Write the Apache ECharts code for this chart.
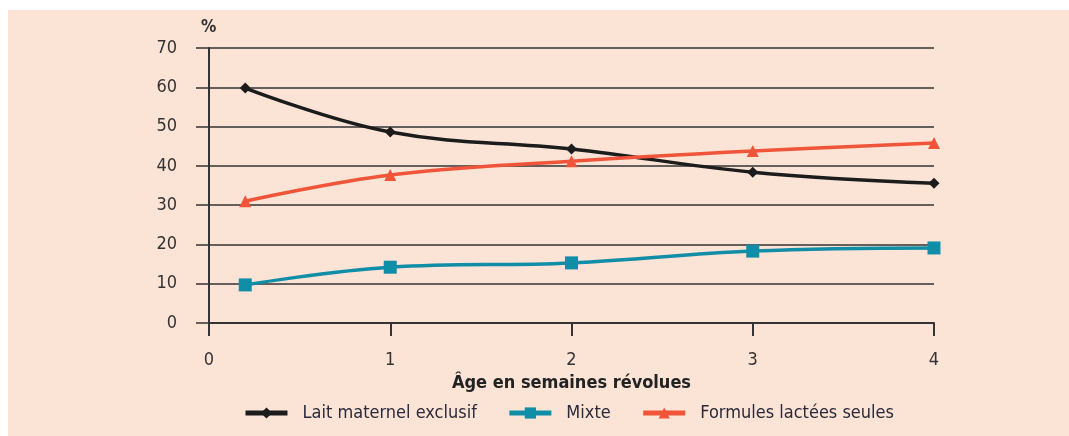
<!DOCTYPE html>
<html>
<head>
<meta charset="utf-8">
<script src="https://cdn.jsdelivr.net/npm/echarts@6/dist/echarts.min.js"></script>
<style>
html, body { margin: 0; padding: 0; background: #fff; }
#box { position: absolute; left: 8px; top: 10px; width: 1061px; height: 426px; background: #fbe3d6; }
#chart { position: absolute; left: 0; top: 0; width: 1069px; height: 436px; }
</style>
</head>
<body>
<div id="box"></div>
<div id="chart"></div>
<script>
// âge (semaines révolues)
const ages = [0.2, 1, 2, 3, 4];
const laitMaternel = [59.8, 48.6, 44.3, 38.4, 35.6];
const mixte = [9.7, 14.2, 15.3, 18.3, 19.1];
const formules = [31.0, 37.7, 41.2, 43.8, 45.8];

const font = '"Liberation Sans Narrow", "DejaVu Sans Condensed", sans-serif';

function pairs(vals) {
  return vals.map((v, i) => [ages[i], v]);
}

const chart = echarts.init(document.getElementById('chart'));

chart.setOption({
  backgroundColor: 'transparent',
  animation: false,
  textStyle: { fontFamily: font },
  grid: { left: 209, right: 135, top: 48, bottom: 113 },
  legend: {
    left: 238,
    top: 399,
    itemWidth: 42,
    itemHeight: 14,
    itemGap: 30,
    lineStyle: { width: 5 },
    textStyle: { fontFamily: font, fontSize: 18, color: '#2a2a3a', padding: [0, 0, 0, 10] },
    data: ['Lait maternel exclusif', 'Mixte', 'Formules lactées seules']
  },
  xAxis: {
    type: 'value',
    min: 0,
    max: 4,
    interval: 1,
    name: 'Âge en semaines révolues',
    nameLocation: 'middle',
    nameGap: 51,
    nameTextStyle: { fontFamily: font, fontSize: 18, fontWeight: 'bold', color: '#222' },
    axisLine: { show: true, lineStyle: { color: '#333', width: 2 } },
    axisTick: { show: true, length: 13, lineStyle: { color: '#333', width: 2 } },
    axisLabel: { margin: 28, fontSize: 18, color: '#333' },
    splitLine: { show: false }
  },
  yAxis: {
    type: 'value',
    min: 0,
    max: 70,
    interval: 10,
    name: '%',
    nameLocation: 'end',
    nameGap: 12,
    nameTextStyle: { fontFamily: font, fontSize: 17, fontWeight: 'bold', color: '#333', align: 'left', padding: [0, 0, 0, -8] },
    axisLine: { show: true, lineStyle: { color: '#333', width: 2 } },
    axisTick: { show: true, length: 13, lineStyle: { color: '#333', width: 1.5 } },
    axisLabel: { margin: 32, fontSize: 18, color: '#333' },
    splitLine: { show: true, lineStyle: { color: '#333', width: 1.5 } }
  },
  series: [
    {
      name: 'Lait maternel exclusif',
      type: 'line',
      smooth: 0.4,
      data: pairs(laitMaternel),
      symbol: 'diamond',
      symbolSize: 11,
      lineStyle: { color: '#1c1c1c', width: 3.5 },
      itemStyle: { color: '#1c1c1c' }
    },
    {
      name: 'Mixte',
      type: 'line',
      smooth: 0.4,
      data: pairs(mixte),
      symbol: 'rect',
      symbolSize: 13,
      lineStyle: { color: '#108ea8', width: 3.5 },
      itemStyle: { color: '#108ea8' }
    },
    {
      name: 'Formules lactées seules',
      type: 'line',
      smooth: 0.4,
      data: pairs(formules),
      symbol: 'triangle',
      symbolSize: 12,
      lineStyle: { color: '#f0553a', width: 3.5 },
      itemStyle: { color: '#f0553a' }
    }
  ]
});
</script>
</body>
</html>
